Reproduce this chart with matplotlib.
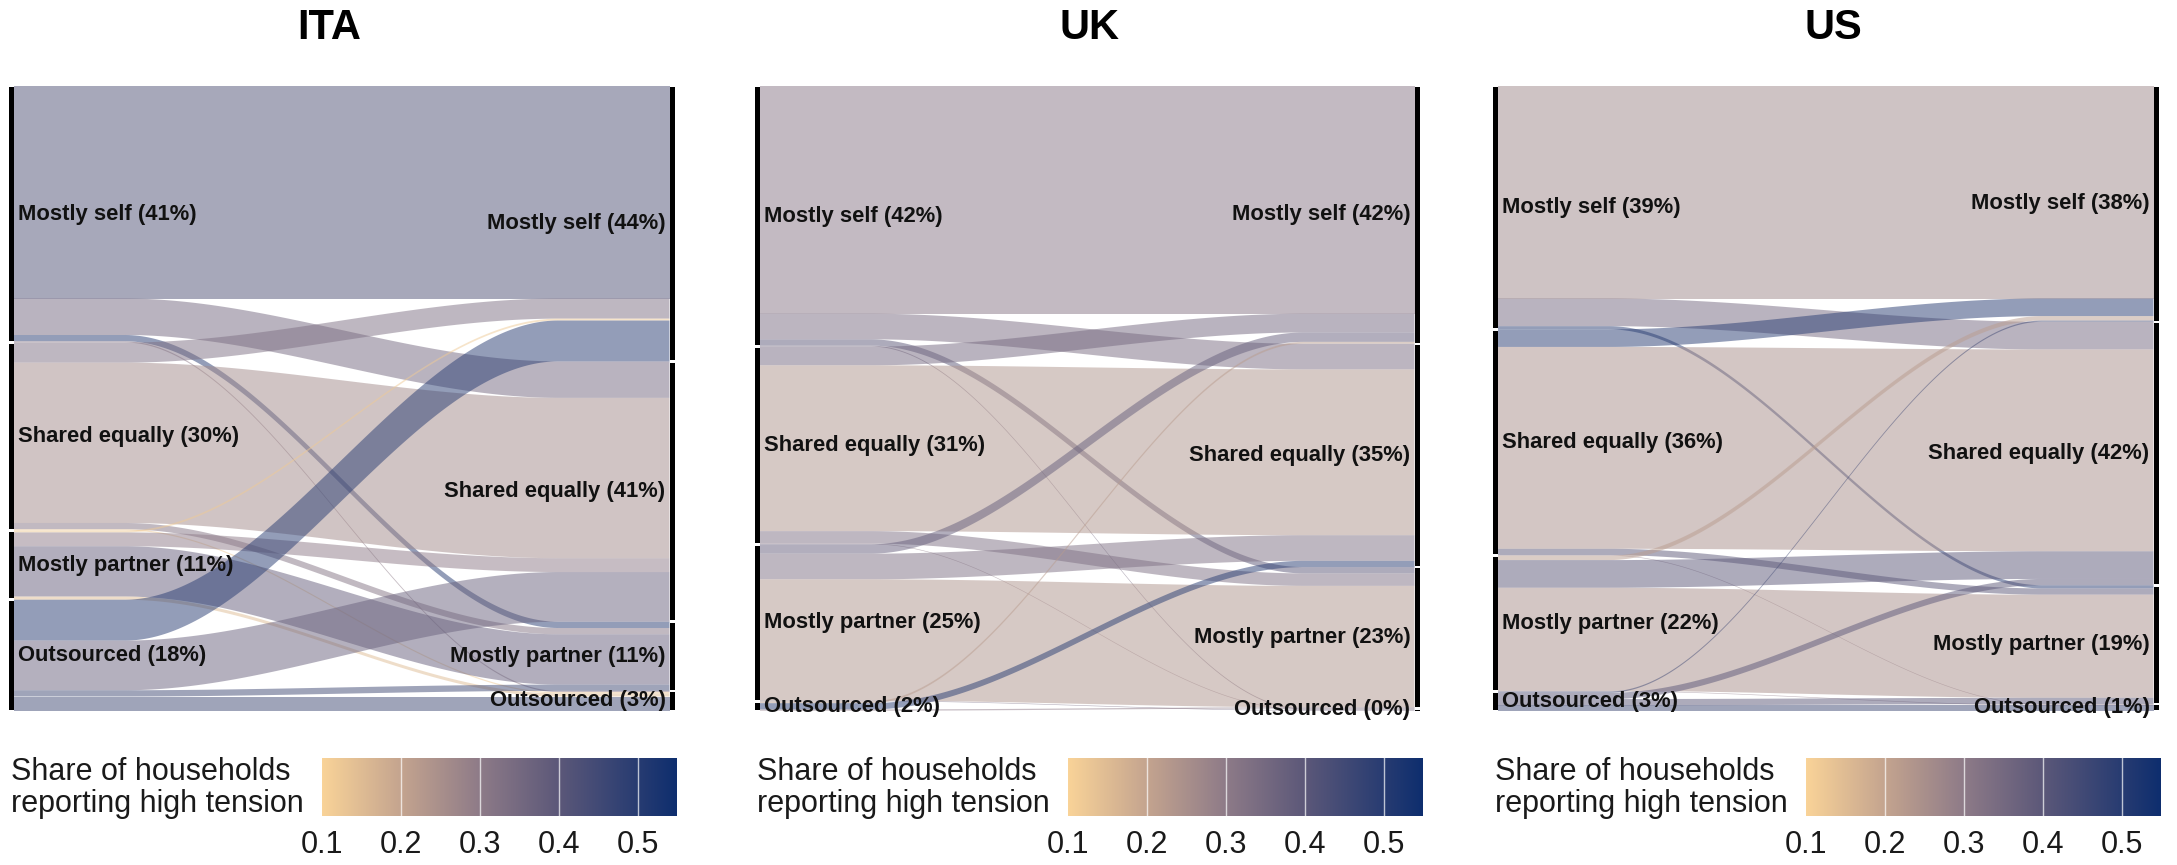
import numpy as np
import matplotlib
matplotlib.use("Agg")
import matplotlib.pyplot as plt
from matplotlib.colors import LinearSegmentedColormap, Normalize
from matplotlib.patches import Polygon, Rectangle

plt.rcParams['font.family'] = ['Liberation Sans', 'DejaVu Sans']

# ---------------- data ----------------
categories = ["Mostly self", "Shared equally", "Mostly partner", "Outsourced"]
countries = ["ITA", "UK", "US"]

# flow shares (% of households): rows = before (left axis), cols = after (right axis)
ita_flows = [[33.8, 5.8, 1.0, 0.2],
             [3.2, 25.5, 1.0, 0.2],
             [0.3, 2.2, 8.0, 0.5],
             [6.5, 7.9, 1.0, 2.3]]
ita_tension = [[0.42, 0.35, 0.50, 0.30],
               [0.33, 0.26, 0.32, 0.12],
               [0.12, 0.30, 0.38, 0.15],
               [0.50, 0.37, 0.45, 0.45]]
ita_left_pct = [41, 30, 11, 18]
ita_right_pct = [44, 41, 11, 3]

uk_flows = [[36.4, 4.1, 1.0, 0.15],
            [3.0, 26.5, 2.0, 0.1],
            [1.5, 4.1, 19.4, 0.1],
            [0.3, 1.0, 0.2, 0.05]]
uk_tension = [[0.31, 0.34, 0.40, 0.35],
              [0.35, 0.24, 0.33, 0.30],
              [0.38, 0.33, 0.24, 0.35],
              [0.22, 0.50, 0.30, 0.30]]
uk_left_pct = [42, 31, 25, 2]
uk_right_pct = [42, 35, 23, 0]

us_flows = [[33.8, 4.4, 0.5, 0.0],
            [2.8, 32.1, 1.0, 0.1],
            [0.7, 4.4, 16.4, 0.1],
            [0.2, 1.0, 1.0, 0.9]]
us_tension = [[0.27, 0.35, 0.50, 0.30],
              [0.50, 0.25, 0.40, 0.30],
              [0.22, 0.40, 0.25, 0.30],
              [0.45, 0.40, 0.40, 0.45]]
us_left_pct = [39, 36, 22, 3]
us_right_pct = [38, 42, 19, 1]

cbar_ticks = [0.1, 0.2, 0.3, 0.4, 0.5]
cbar_range = (0.1, 0.55)
legend_title = "Share of households\nreporting high tension"

panels = [
    (countries[0], ita_flows, ita_tension, ita_left_pct, ita_right_pct),
    (countries[1], uk_flows, uk_tension, uk_left_pct, uk_right_pct),
    (countries[2], us_flows, us_tension, us_left_pct, us_right_pct),
]

# ---------------- style ----------------
W, H = 2177, 865
fig = plt.figure(figsize=(W / 100, H / 100), dpi=100)

cmap = LinearSegmentedColormap.from_list(
    "tension",
    [(0.0, "#F9D398"), (0.2222, "#C4A48F"), (0.4444, "#8E7B88"),
     (0.6667, "#5C5879"), (1.0, "#0E2E6E")])
norm = Normalize(*cbar_range)

bars_px = [(11, 672), (757, 1417), (1495, 2156)]
top_px, bot_px = 86, 711
bar_w = 5
title_x = [329, 1090, 1833]


def add_ax(x0, x1, y0, y1):
    return fig.add_axes([x0 / W, 1 - y1 / H, (x1 - x0) / W, (y1 - y0) / H])


def shape(t):
    a, b = 0.17, 0.83
    s = np.clip((t - a) / (b - a), 0, 1)
    return s * s * (3 - 2 * s)


xs = np.linspace(0, 1, 200)
fs = shape(xs)

for k, (name, flows, tens, lpct, rpct) in enumerate(panels):
    F = np.array(flows, dtype=float)
    T = np.array(tens, dtype=float)
    total = F.sum()
    bl, br = bars_px[k]
    fl, fr = bl + bar_w / 2, br - bar_w / 2
    ax = add_ax(fl, fr, top_px, bot_px)
    ax.set_xlim(0, 1)
    ax.set_ylim(total, 0)
    ax.axis("off")

    left_tot = F.sum(axis=1)
    right_tot = F.sum(axis=0)
    left_top = np.concatenate([[0], np.cumsum(left_tot)[:-1]])
    right_top = np.concatenate([[0], np.cumsum(right_tot)[:-1]])

    for i in range(4):
        for j in range(4):
            v = F[i, j]
            if v <= 0:
                continue
            y0 = left_top[i] + F[i, :j].sum()
            y1 = right_top[j] + F[:i, j].sum()
            top = y0 + (y1 - y0) * fs
            bot = top + v
            pts = np.concatenate([np.column_stack([xs, top]),
                                  np.column_stack([xs[::-1], bot[::-1]])])
            ax.add_patch(Polygon(pts, closed=True, facecolor=cmap(norm(T[i, j])),
                                 alpha=0.5, edgecolor="none", zorder=2))

    # stratum bars
    bw = bar_w / (fr - fl)
    gap = 0.2
    for i in range(4):
        h = left_tot[i]
        ax.add_patch(Rectangle((-bw, left_top[i] + gap), bw, max(h - 2 * gap, 0.15),
                               facecolor="black", edgecolor="none", clip_on=False, zorder=3))
        h = right_tot[i]
        ax.add_patch(Rectangle((1, right_top[i] + gap), bw, max(h - 2 * gap, 0.15),
                               facecolor="black", edgecolor="none", clip_on=False, zorder=3))

    # labels
    dx = 4 / (fr - fl)
    for i in range(4):
        yc = left_top[i] + left_tot[i] / 2
        ax.text(dx, yc, f"{categories[i]} ({lpct[i]}%)", ha="left", va="center",
                fontsize=15.8, fontweight="bold", color="#111111", zorder=5)
        yc = right_top[i] + right_tot[i] / 2
        ax.text(1 - dx, yc, f"{categories[i]} ({rpct[i]}%)", ha="right", va="center",
                fontsize=15.8, fontweight="bold", color="#111111", zorder=5)

    # title
    fig.text(title_x[k] / W, 1 - 28 / H, name, ha="center", va="center",
             fontsize=30, fontweight="bold", color="black")

    # colour legend
    fig.text(bl / W, 1 - 788 / H, legend_title, ha="left", va="center",
             fontsize=22, color="#1a1a1a", linespacing=1.08)
    cax = add_ax(bl + 311, bl + 666, 758, 816)
    grad = np.linspace(cbar_range[0], cbar_range[1], 512).reshape(1, -1)
    cax.imshow(grad, cmap=cmap, norm=norm, aspect="auto",
               extent=(cbar_range[0], cbar_range[1], 0, 1))
    for t in cbar_ticks[1:]:
        cax.axvline(t, color="white", lw=1, alpha=0.7)
    cax.set_xlim(*cbar_range)
    cax.set_ylim(0, 1)
    cax.set_yticks([])
    cax.set_xticks(cbar_ticks)
    cax.set_xticklabels([f"{t:.1f}" for t in cbar_ticks], fontsize=22, color="#1a1a1a")
    cax.tick_params(axis="x", length=0, pad=10)
    for s in cax.spines.values():
        s.set_visible(False)

fig.savefig("out.png", dpi=100, facecolor="white")
